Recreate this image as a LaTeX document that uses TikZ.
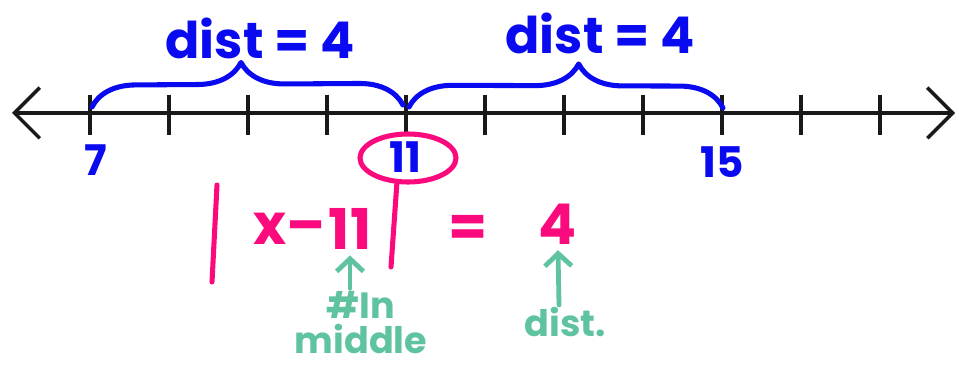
\documentclass[tikz,border=0pt]{standalone}
\usepackage{fontspec}
\setmainfont{Poppins}
\usetikzlibrary{arrows.meta,positioning,shapes.geometric,decorations.pathreplacing}
\definecolor{penblue}{RGB}{10,10,240}
\definecolor{penpink}{RGB}{250,10,125}
\definecolor{pengreen}{RGB}{95,195,160}
\tikzset{
  axis/.style={line width=2.4pt, black!90},
  tickmark/.style={line width=3pt, black!90},
  bluepen/.style={penblue, line width=3.6pt, line cap=round, line join=round},
  pinkpen/.style={penpink, line width=3.6pt, line cap=round},
  greenpen/.style={pengreen, line width=3.4pt, line cap=round, line join=round},
  numlbl/.style={penblue, font=\fontsize{30}{32}\selectfont\bfseries, inner sep=0pt},
  distlbl/.style={penblue, font=\fontsize{36}{40}\selectfont\bfseries, inner sep=0pt},
  eqtext/.style={penpink, font=\fontsize{40}{44}\selectfont\bfseries, inner sep=0pt},
  notetext/.style={pengreen, font=\fontsize{26}{28}\selectfont\bfseries, inner sep=0pt, align=center}
}

\begin{document}
\begin{tikzpicture}[x=0.025cm, y=-0.025cm]
  \useasboundingbox (0,0) rectangle (959,365);
  % number line
  \coordinate (lend) at (12,113);
  \coordinate (rend) at (955,113);
  \draw[axis, {Straight Barb[length=18pt,width=36pt]}-{Straight Barb[length=18pt,width=36pt]}] (lend) -- (rend);
  \foreach \n in {7,...,17}{
    \coordinate (t\n) at ({90+79*(\n-7)},113);
    \draw[tickmark] ([yshift=13pt]t\n) -- ([yshift=-16pt]t\n);
  }
  \node[numlbl] (n7) at (96,160) {7};
  \node[ellipse, draw=penpink, line width=3.6pt, minimum width=2.4cm, minimum height=1.2cm, inner sep=0pt] (c11) at (408,158) {};
  \node[numlbl] (n11) at (405,157) {11};
  \node[numlbl] (n15) at (722,162) {15};

  % braces
  \draw[bluepen, decorate, decoration={brace, amplitude=31pt, aspect=0.48}] ([shift={(2,-6)}]t7) -- ([shift={(-3,-8)}]t11);
  \draw[bluepen, decorate, decoration={brace, amplitude=31pt, aspect=0.54}] ([shift={(3,-6)}]t11) -- ([shift={(1,-5)}]t15);
  \node[distlbl] (d1) at (260,38) {dist = 4};
  \node[distlbl] (d2) at (600,33) {dist = 4};

  % equation
  \coordinate (lbartop) at (217,185);
  \coordinate (lbarbot) at (212,282);
  \coordinate (rbarbot) at (391,267);
  \draw[pinkpen] (lbartop) -- (lbarbot);
  \draw[pinkpen] ([xshift=-0.28cm]c11.south) -- (rbarbot);
  \node[eqtext] (xm) at (290,229) {x–};
  \node[eqtext] (e11) at (350,229) {11};
  \node[eqtext] (eq) at (468,231) {=};
  \node[eqtext] (e4) at (558,224) {4};

  % notes
  \node[notetext] (inm) at (361,305) {\#In};
  \node[notetext] (mid) at (361,339) {middle};
  \node[notetext] (dst) at (565,322) {dist.};
  \draw[greenpen, -{Straight Barb[length=9pt,width=19pt]}] ([yshift=2pt]inm.north -| e11) -- ([yshift=-4pt]e11.south);
  \draw[greenpen, -{Straight Barb[length=9pt,width=19pt]}] (dst.north) ++(-6,-2) -- ([yshift=-4pt]e4.south);
\end{tikzpicture}
\end{document}
